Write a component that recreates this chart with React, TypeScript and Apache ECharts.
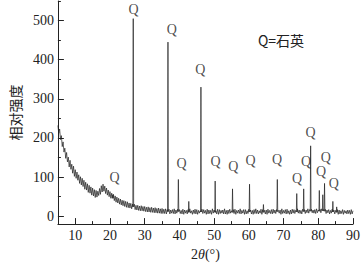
import React, { useEffect, useRef } from "react";
import * as echarts from "echarts";

// Background (noisy baseline) sampled every 0.25° from 5° to 90°, one row per degree
const bgStart = 5;
const bgStep = 0.25;
const background = [
  232, 212, 223, 196, // 5
  206, 178, 190, 164, // 6
  174, 148, 163, 139, // 7
  151, 126, 143, 120, // 8
  133, 110, 128, 102, // 9
  119, 97, 113, 92, // 10
  106, 84, 101, 80, // 11
  97, 76, 92, 69, // 12
  87, 67, 83, 61, // 13
  79, 59, 75, 54, // 14
  72, 52, 68, 48, // 15
  66, 49, 64, 53, // 16
  71, 56, 78, 62, // 17
  82, 64, 77, 58, // 18
  72, 54, 67, 50, // 19
  63, 46, 59, 42, // 20
  56, 40, 52, 36, // 21
  49, 34, 46, 31, // 22
  44, 29, 41, 27, // 23
  40, 25, 38, 23, // 24
  37, 22, 34, 21, // 25
  33, 19, 31, 19, // 26
  31, 17, 28, 16, // 27
  28, 15, 26, 14, // 28
  27, 14, 25, 13, // 29
  25, 12, 23, 11, // 30
  24, 11, 22, 10, // 31
  23, 10, 21, 9, // 32
  22, 9, 20, 8, // 33
  21, 8, 19, 7, // 34
  20, 7, 18, 7, // 35
  19, 6, 17, 7, // 36
  18, 6, 16, 8, // 37
  17, 7, 19, 6, // 38
  16, 8, 18, 5, // 39
  17, 7, 15, 6, // 40
  18, 5, 16, 8, // 41
  15, 6, 17, 7, // 42
  19, 8, 14, 5, // 43
  16, 7, 18, 6, // 44
  17, 5, 15, 8, // 45
  14, 6, 18, 7, // 46
  17, 8, 15, 5, // 47
  18, 6, 16, 7, // 48
  15, 5, 19, 8, // 49
  16, 7, 14, 6, // 50
  18, 5, 17, 7, // 51
  15, 8, 16, 6, // 52
  19, 6, 15, 5, // 53
  16, 7, 18, 8, // 54
  14, 6, 17, 7, // 55
  18, 5, 15, 8, // 56
  16, 7, 19, 6, // 57
  15, 8, 17, 5, // 58
  17, 6, 14, 7, // 59
  18, 8, 16, 6, // 60
  15, 5, 17, 7, // 61
  19, 7, 16, 6, // 62
  14, 8, 18, 5, // 63
  17, 7, 15, 6, // 64
  16, 5, 18, 8, // 65
  15, 7, 17, 6, // 66
  18, 8, 16, 7, // 67
  17, 6, 15, 8, // 68
  16, 5, 19, 7, // 69
  15, 8, 17, 6, // 70
  18, 7, 14, 5, // 71
  16, 6, 18, 8, // 72
  17, 7, 15, 6, // 73
  19, 8, 16, 7, // 74
  15, 6, 18, 8, // 75
  17, 7, 16, 9, // 76
  19, 8, 17, 10, // 77
  18, 9, 16, 8, // 78
  17, 7, 19, 9, // 79
  16, 8, 18, 9, // 80
  19, 10, 17, 8, // 81
  18, 7, 16, 9, // 82
  17, 6, 15, 8, // 83
  18, 7, 16, 6, // 84
  15, 8, 17, 5, // 85
  16, 6, 14, 7, // 86
  17, 5, 15, 8, // 87
  14, 6, 16, 7, // 88
  15, 5, 17, 6, // 89
  14, // 90
];

// Diffraction peaks
const peakPos = [20.8, 26.7, 36.7, 39.7, 42.7, 46.2, 50.3, 55.3, 60.2, 64.2, 68.2, 73.8, 75.8, 77.8, 80.3, 81.3, 81.8, 84.2, 85.3];
const peakTop = [55, 505, 445, 94, 38, 330, 90, 70, 82, 30, 94, 58, 70, 180, 66, 55, 84, 38, 24];
const peakBase = [46, 24, 12, 12, 10, 11, 10, 10, 11, 10, 12, 11, 12, 13, 13, 14, 13, 11, 10];

// "Q" annotations
const qX = [21.3, 26.8, 37.8, 46.0, 40.6, 50.4, 55.5, 60.5, 68.1, 73.9, 76.5, 77.8, 80.8, 82.2, 84.5];
const qY = [99, 529, 477, 375, 134, 140, 127, 142, 145, 97, 140, 213, 114, 149, 84];

const xLabels = [10, 20, 30, 40, 50, 60, 70, 80, 90];
const xMinorTicks = [5, 15, 25, 35, 45, 55, 65, 75, 85];
const yLabels = [0, 100, 200, 300, 400, 500];
const yMinorTicks = [50, 150, 250, 350, 450, 550];

const SERIF = "'Liberation Serif', 'Times New Roman', serif";
const CJK = "'Noto Sans CJK SC', sans-serif";
const INK = "#222";

export default function App() {
  const ref = useRef<HTMLDivElement>(null);
  useEffect(() => {
    if (!ref.current) return;
    const chart = echarts.init(ref.current, null, { renderer: "svg" });
    const pts: [number, number][] = [];
    background.forEach((v, i) => {
      const x = bgStart + i * bgStep;
      if (!peakPos.some((p) => Math.abs(p - x) < 0.14)) pts.push([x, v]);
    });
    peakPos.forEach((p, i) => {
      pts.push([p - 0.12, peakBase[i]], [p, peakTop[i]], [p + 0.12, peakBase[i]]);
    });
    pts.sort((a, b) => a[0] - b[0]);
    const qData = qX.map((x, i) => [x, qY[i]]);

    const minorX = {
      type: "value",
      min: 5,
      max: 90,
      position: "bottom",
      axisLine: { show: false, onZero: false },
      axisTick: { show: true, inside: true, length: 3, customValues: xMinorTicks, lineStyle: { color: INK } },
      axisLabel: { show: false },
      splitLine: { show: false },
    };
    const minorY = {
      type: "value",
      min: -20,
      max: 550,
      position: "left",
      axisLine: { show: false, onZero: false },
      axisTick: { show: true, inside: true, length: 3, customValues: yMinorTicks, lineStyle: { color: INK } },
      axisLabel: { show: false },
      splitLine: { show: false },
    };

    chart.setOption({
      animation: false,
      backgroundColor: "#fff",
      grid: { left: 47, right: 8, top: 1, bottom: 36, containLabel: false },
      xAxis: [
        {
          type: "value",
          min: 5,
          max: 90,
          position: "bottom",
          axisLine: { show: true, onZero: false, lineStyle: { color: INK, width: 1 } },
          axisTick: { show: true, inside: true, length: 6, customValues: xLabels, lineStyle: { color: INK } },
          axisLabel: { customValues: xLabels, fontFamily: SERIF, fontSize: 14, color: INK, margin: 4 },
          splitLine: { show: false },
          name: "2{i|θ}(°)",
          nameLocation: "middle",
          nameGap: 19,
          nameTextStyle: {
            fontFamily: SERIF,
            fontSize: 14,
            color: INK,
            rich: { i: { fontFamily: SERIF, fontSize: 14, fontStyle: "italic", color: INK } },
          },
        },
        minorX,
      ],
      yAxis: [
        {
          type: "value",
          min: -20,
          max: 550,
          position: "left",
          axisLine: { show: true, onZero: false, lineStyle: { color: INK, width: 1 } },
          axisTick: { show: true, inside: true, length: 6, customValues: yLabels, lineStyle: { color: INK } },
          axisLabel: { customValues: yLabels, fontFamily: SERIF, fontSize: 14, color: INK, margin: 4 },
          splitLine: { show: false },
          name: "相对强度",
          nameLocation: "middle",
          nameGap: 34,
          nameTextStyle: { fontFamily: CJK, fontSize: 14, color: INK },
        },
        minorY,
      ],
      series: [
        {
          type: "line",
          data: pts,
          showSymbol: false,
          symbol: "none",
          lineStyle: { color: "#1e1e1e", width: 0.7 },
          z: 2,
        },
        {
          type: "scatter",
          data: qData,
          symbolSize: 1,
          itemStyle: { color: "rgba(0,0,0,0)" },
          label: {
            show: true,
            position: "inside",
            formatter: "Q",
            fontFamily: SERIF,
            fontSize: 14,
            color: INK,
          },
          z: 3,
        },
      ],
      graphic: [
        {
          type: "text",
          x: 281,
          y: 40,
          style: {
            text: "Q=石英",
            fontFamily: CJK,
            fontSize: 14,
            fill: INK,
            textAlign: "center",
            textVerticalAlign: "middle",
          },
        },
      ],
    });
    return () => chart.dispose();
  }, []);
  return (
    <div
      ref={ref}
      style={{ position: "absolute", left: 0, top: 0, width: 363, height: 266 }}
    />
  );
}
